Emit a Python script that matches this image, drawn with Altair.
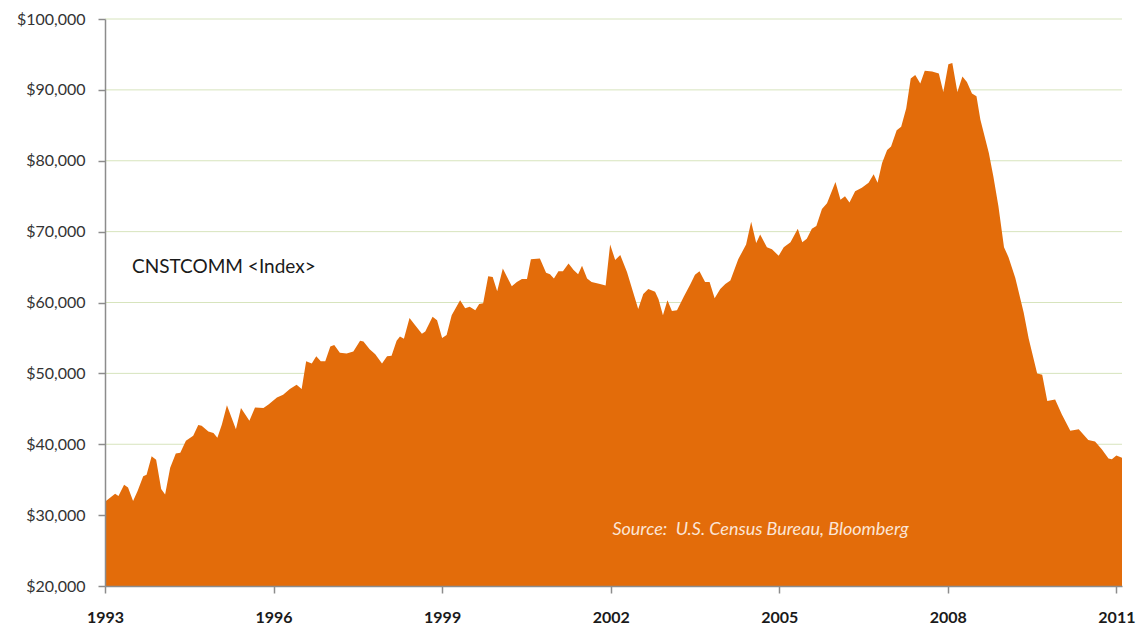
import altair as alt
import pandas as pd

# ---- data (decimal year, index value in $) ----
years = [
    1993.00, 1993.18, 1993.24, 1993.34, 1993.41, 1993.50, 1993.58, 1993.68, 1993.74, 1993.83,
    1993.91, 1994.00, 1994.07, 1994.16, 1994.26, 1994.34, 1994.44, 1994.57, 1994.66, 1994.72,
    1994.84, 1994.93, 1995.00, 1995.08, 1995.17, 1995.33, 1995.42, 1995.57, 1995.67, 1995.82,
    1995.91, 1996.06, 1996.17, 1996.29, 1996.41, 1996.50, 1996.58, 1996.68, 1996.76, 1996.84,
    1996.92, 1997.01, 1997.08, 1997.18, 1997.30, 1997.42, 1997.54, 1997.60, 1997.71, 1997.81,
    1997.93, 1998.02, 1998.10, 1998.19, 1998.25, 1998.32, 1998.42, 1998.52, 1998.64, 1998.70,
    1998.83, 1998.91, 1999.00, 1999.08, 1999.17, 1999.32, 1999.41, 1999.49, 1999.59, 1999.66,
    1999.73, 1999.82, 1999.90, 1999.98, 2000.08, 2000.24, 2000.33, 2000.42, 2000.51, 2000.58,
    2000.74, 2000.85, 2000.92, 2000.99, 2001.07, 2001.15, 2001.25, 2001.34, 2001.42, 2001.49,
    2001.58, 2001.66, 2001.81, 2001.91, 2001.99, 2002.08, 2002.17, 2002.29, 2002.49, 2002.58,
    2002.67, 2002.79, 2002.85, 2002.93, 2003.01, 2003.09, 2003.18, 2003.30, 2003.42, 2003.50,
    2003.58, 2003.68, 2003.76, 2003.85, 2003.95, 2004.04, 2004.13, 2004.27, 2004.41, 2004.50,
    2004.59, 2004.66, 2004.78, 2004.87, 2004.99, 2005.08, 2005.20, 2005.33, 2005.41, 2005.49,
    2005.58, 2005.66, 2005.76, 2005.85, 2006.00, 2006.09, 2006.17, 2006.25, 2006.35, 2006.47,
    2006.59, 2006.68, 2006.75, 2006.83, 2006.92, 2006.99, 2007.09, 2007.17, 2007.26, 2007.34,
    2007.42, 2007.51, 2007.59, 2007.72, 2007.84, 2007.92, 2008.01, 2008.08, 2008.17, 2008.26,
    2008.34, 2008.43, 2008.51, 2008.58, 2008.73, 2008.81, 2008.90, 2009.00, 2009.08, 2009.20,
    2009.35, 2009.44, 2009.59, 2009.68, 2009.77, 2009.91, 2010.03, 2010.18, 2010.33, 2010.50,
    2010.62, 2010.74, 2010.86, 2010.92, 2011.00, 2011.10,
]
values = [
    31900, 33000, 32700, 34300, 33900, 32000, 33400, 35500, 35700, 38300,
    37800, 33700, 32900, 36700, 38700, 38800, 40500, 41200, 42700, 42600,
    41800, 41600, 40900, 42800, 45500, 42100, 45100, 43300, 45200, 45100,
    45600, 46600, 47000, 47800, 48400, 47800, 51700, 51400, 52400, 51700,
    51700, 53800, 54000, 52900, 52800, 53100, 54600, 54500, 53400, 52700,
    51400, 52400, 52500, 54600, 55200, 54900, 57800, 56800, 55600, 55900,
    58000, 57500, 55000, 55400, 58200, 60300, 59200, 59400, 58900, 59800,
    59900, 63700, 63600, 61600, 64800, 62300, 62900, 63300, 63300, 66100,
    66200, 64200, 64000, 63400, 64400, 64400, 65500, 64600, 64000, 65200,
    63400, 62900, 62600, 62400, 68200, 66000, 66700, 64300, 59100, 61200,
    61900, 61500, 60500, 58200, 60300, 58800, 58900, 60800, 62600, 63900,
    64400, 62900, 62900, 60600, 61900, 62600, 63100, 66100, 68200, 71400,
    68400, 69600, 67800, 67500, 66600, 67800, 68500, 70400, 68500, 69000,
    70400, 70800, 73200, 74000, 77000, 74500, 75000, 74100, 75700, 76200,
    76900, 78100, 76900, 79700, 81500, 82000, 84300, 84800, 87400, 91600,
    92100, 90900, 92700, 92600, 92300, 89700, 93600, 93800, 89700, 91900,
    91100, 89500, 89100, 85800, 81100, 77800, 73600, 67800, 66400, 63500,
    58600, 54900, 50000, 49800, 46100, 46300, 44200, 41900, 42100, 40600,
    40400, 39300, 38000, 37900, 38400, 38100,
]

y_ticks = [20000, 30000, 40000, 50000, 60000, 70000, 80000, 90000, 100000]
grid_values = [30000, 40000, 50000, 60000, 70000, 80000, 90000, 100000]
x_ticks = [1993, 1996, 1999, 2002, 2005, 2008, 2011]

label_text = ["CNSTCOMM <Index>"]
label_year = [1993.48]
label_value = [64970]

source_text = ["Source:\u00a0 U.S. Census Bureau, Bloomberg"]
source_year = [2002.03]
source_value = [27850]

df = pd.DataFrame({"year": years, "value": values})
grid_df = pd.DataFrame({"value": grid_values})
label_df = pd.DataFrame({"text": label_text, "year": label_year, "value": label_value})
source_df = pd.DataFrame({"text": source_text, "year": source_year, "value": source_value})

FONT = "Lato"
xscale = alt.Scale(domain=[1993, 2011.1], nice=False, zero=False)
yscale = alt.Scale(domain=[20000, 100000], nice=False, zero=False)

x_axis = alt.Axis(
    values=x_ticks,
    format="d",
    title=None,
    grid=False,
    domainColor="#8c8c8c",
    domainWidth=1.5,
    tickColor="#8c8c8c",
    tickWidth=1.5,
    tickSize=7,
    labelFont=FONT,
    labelFontSize=16,
    labelFontWeight="bold",
    labelColor="#1a1a1a",
    labelPadding=16,
    labelFlush=False,
    labelOverlap=False,
    labelBound=False,
    zindex=1,
)
y_axis = alt.Axis(
    values=y_ticks,
    format="$,.0f",
    title=None,
    grid=False,
    domainColor="#8c8c8c",
    domainWidth=1.5,
    tickColor="#8c8c8c",
    tickWidth=1.5,
    tickSize=7,
    labelFont=FONT,
    labelFontSize=16,
    labelColor="#333333",
    labelPadding=13,
    labelOverlap=False,
    zindex=1,
)

grid = alt.Chart(grid_df).mark_rule(color="#d7e4bd", strokeWidth=1).encode(
    y=alt.Y("value:Q", scale=yscale, axis=y_axis)
)

area = alt.Chart(df).mark_area(color="#e36c0a", interpolate="linear", clip=True).encode(
    x=alt.X("year:Q", scale=xscale, axis=x_axis),
    y=alt.Y("value:Q", scale=yscale, axis=y_axis),
)

label = alt.Chart(label_df).mark_text(
    font=FONT, fontSize=19, color="#1a1a1a", align="left", baseline="middle"
).encode(
    x=alt.X("year:Q", scale=xscale, axis=x_axis),
    y=alt.Y("value:Q", scale=yscale, axis=y_axis),
    text="text:N",
)

source = alt.Chart(source_df).mark_text(
    font=FONT, fontSize=18, fontStyle="italic", color="#fbe5d6", align="left", baseline="middle"
).encode(
    x=alt.X("year:Q", scale=xscale, axis=x_axis),
    y=alt.Y("value:Q", scale=yscale, axis=y_axis),
    text="text:N",
)

chart = (
    alt.layer(grid, area, label, source)
    .properties(
        width=1017,
        height=567,
        autosize=alt.AutoSizeParams(type="none"),
        padding={"left": 97, "top": 11, "right": 15, "bottom": 38},
        background="white",
    )
    .configure_view(stroke=None)
)

chart.save("out.html", embed_options={"renderer": "svg", "actions": False})
